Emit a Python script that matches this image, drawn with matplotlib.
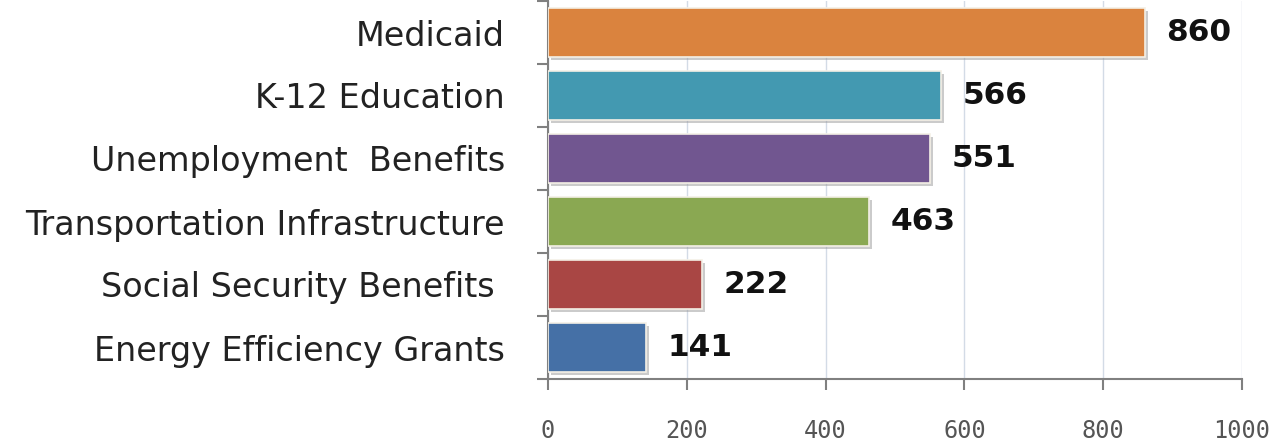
import matplotlib.pyplot as plt
import matplotlib.patheffects as pe
import numpy as np

# Data
categories = ["Medicaid", "K-12 Education", "Unemployment  Benefits",
              "Transportation Infrastructure", "Social Security Benefits ",
              "Energy Efficiency Grants"]
values = [860, 566, 551, 463, 222, 141]
colors = ["#DA833E", "#4399B1", "#715690", "#8AA852", "#A94644", "#4570A6"]
xticks = [0, 200, 400, 600, 800, 1000]

fig = plt.figure(figsize=(12.78, 4.46), dpi=100)
ax = fig.add_axes([548/1278, (446-379)/446, (1242-548)/1278, 378/446])

y = np.arange(len(categories))[::-1]
bars = ax.barh(y, values, height=0.78, color=colors,
               edgecolor="#F4F0E6", linewidth=1.2, zorder=3)
for b in bars:
    b.set_path_effects([pe.SimplePatchShadow(offset=(2, -2), shadow_rgbFace="#999999", alpha=0.5),
                        pe.Normal()])

for yi, v in zip(y, values):
    ax.text(v + 31, yi, f"{v}", va="center", ha="left",
            fontsize=22.5, fontweight="bold", color="#111111")

ax.set_xlim(0, 1000)
ax.set_ylim(-0.5, len(categories) - 0.5)

ax.set_xticks(xticks)
ax.set_xticklabels([str(t) for t in xticks], family="DejaVu Sans Mono",
                   fontsize=17, color="#555555")
ax.tick_params(axis="x", length=8, width=1.5, color="#808080", pad=21)

ax.set_yticks(y)
ax.set_yticklabels(categories, fontsize=24, color="#222222")
ax.tick_params(axis="y", length=0, pad=31)
ax.set_yticks(np.arange(-0.5, len(categories), 1.0), minor=True)
ax.tick_params(axis="y", which="minor", length=8, width=1.5, color="#808080")

ax.grid(axis="x", color="#D3DBE6", linewidth=1, zorder=0)
for s in ["top", "right"]:
    ax.spines[s].set_visible(False)
for s in ["left", "bottom"]:
    ax.spines[s].set_color("#808080")
    ax.spines[s].set_linewidth(1.5)

fig.savefig("out.png", dpi=100)
